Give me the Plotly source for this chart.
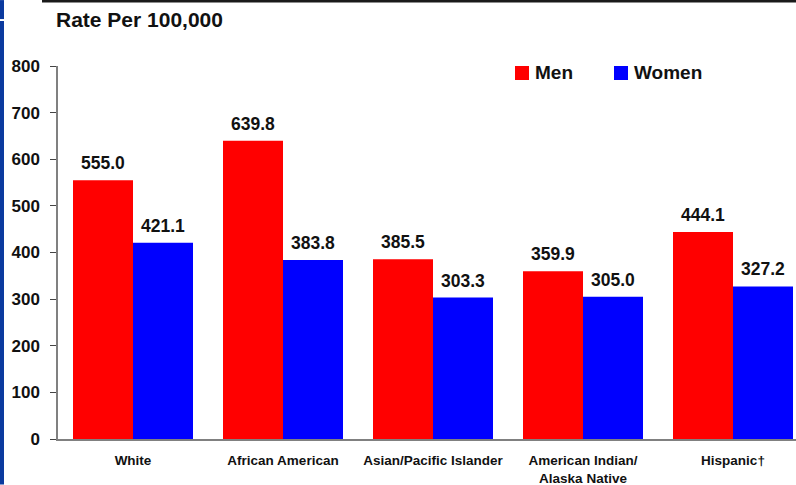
import plotly.graph_objects as go

categories = ["White", "African American", "Asian/Pacific Islander",
              "American Indian/<br>Alaska Native", "Hispanic†"]
men = [555.0, 639.8, 385.5, 359.9, 444.1]
women = [421.1, 383.8, 303.3, 305.0, 327.2]
series_names = ["Men", "Women"]
y_ticks = [0, 100, 200, 300, 400, 500, 600, 700, 800]
title_text = "Rate Per 100,000"

FONT = "Arial, Liberation Sans, sans-serif"
W, H = 796, 485
ML, MT, MB = 58, 66, 45.5
PW = W - ML
PH = H - MT - MB
CAT_PX = 150.0


def px(x):
    return (x - ML) / PW


def py(y):
    return (H - MB - y) / PH


fig = go.Figure()
annotations = []
for k, (name, vals, col) in enumerate([(series_names[0], men, "#FF0000"),
                                       (series_names[1], women, "#0000FF")]):
    fig.add_trace(go.Bar(
        x=list(range(len(categories))), y=vals, name=name,
        marker=dict(color=col, line=dict(width=0)),
        showlegend=False,
    ))
    shift = (-0.2 if k == 0 else 0.2) * CAT_PX
    for i, v in enumerate(vals):
        annotations.append(dict(x=i, y=v, xref="x", yref="y", xshift=shift, yshift=5,
                                xanchor="center", yanchor="bottom", showarrow=False,
                                text=f"<b>{v:.1f}</b>",
                                font=dict(family=FONT, size=17.5, color="#111111")))

shapes = []
# left blue strip
shapes.append(dict(type="rect", xref="paper", yref="paper", x0=px(0), x1=px(4),
                   y0=py(485), y1=py(21), fillcolor="#0b3a9f", line=dict(width=0), layer="above"))
shapes.append(dict(type="rect", xref="paper", yref="paper", x0=px(0), x1=px(4),
                   y0=py(19), y1=py(0), fillcolor="#0b3a9f", line=dict(width=0), layer="above"))
# top black line
shapes.append(dict(type="rect", xref="paper", yref="paper", x0=px(42), x1=px(796),
                   y0=py(2.5), y1=py(0), fillcolor="#1a1a1a", line=dict(width=0)))
# legend
leg = [(series_names[0], "#FF0000", 515), (series_names[1], "#0000FF", 614)]
for name, col, x0 in leg:
    shapes.append(dict(type="rect", xref="paper", yref="paper", x0=px(x0), x1=px(x0 + 14),
                       y0=py(80), y1=py(66), fillcolor=col, line=dict(width=0)))
    annotations.append(dict(xref="paper", yref="paper", x=px(x0 + 18), y=py(73),
                            xanchor="left", yanchor="middle", showarrow=False,
                            text=f"<b>{name}</b>", font=dict(family=FONT, size=19, color="#111111")))
annotations.append(dict(xref="paper", yref="paper", x=px(54), y=py(19),
                        xanchor="left", yanchor="middle", showarrow=False,
                        text=f"<b>{title_text}</b>", font=dict(family=FONT, size=21, color="#111111")))

fig.update_layout(
    width=W, height=H,
    margin=dict(l=ML, r=0, t=MT, b=MB, pad=0),
    paper_bgcolor="white", plot_bgcolor="white",
    barmode="group", bargap=0.2, bargroupgap=0,
    shapes=shapes, annotations=annotations,
    font=dict(family=FONT, color="#111111"),
)
fig.update_xaxes(
    range=[-0.5, -0.5 + PW / CAT_PX],
    tickmode="array", tickvals=list(range(len(categories))),
    ticktext=[f"<b>{c}</b>" for c in categories],
    tickfont=dict(family=FONT, size=13.5, color="#111111"),
    showline=True, linecolor="#808080", linewidth=1.5,
    ticks="", showgrid=False, zeroline=False, ticklabelstandoff=8,
)
fig.update_yaxes(
    range=[0, 800], tickmode="array", tickvals=y_ticks,
    ticktext=[f"<b>{t}</b>" for t in y_ticks],
    tickfont=dict(family=FONT, size=17, color="#111111"),
    showline=True, linecolor="#808080", linewidth=1.5,
    ticks="outside", ticklen=6, tickcolor="#444444", tickwidth=1,
    showgrid=False, zeroline=False, ticklabelstandoff=7,
)

fig.write_html("out.html")
